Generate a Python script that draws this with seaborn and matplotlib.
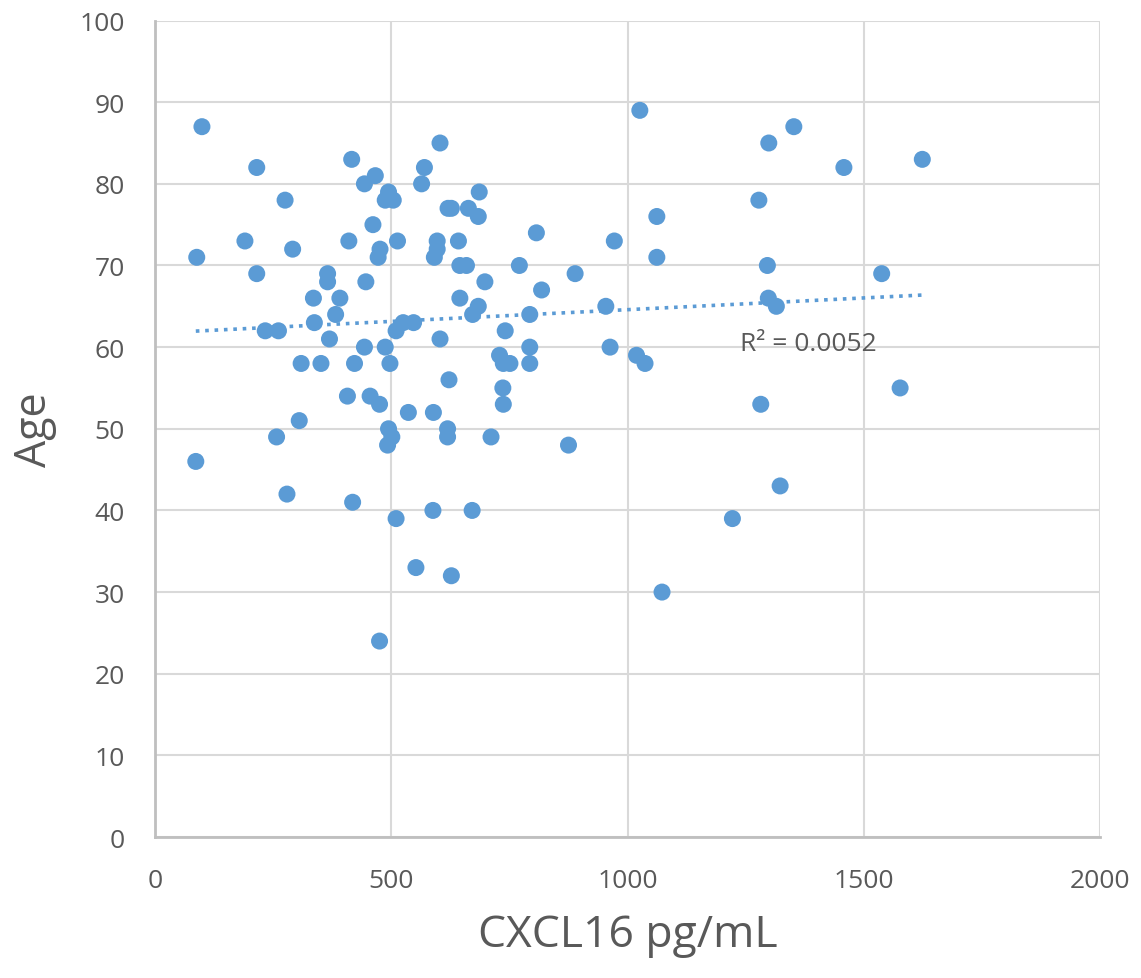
import numpy as np
import pandas as pd
import seaborn as sns
import matplotlib.pyplot as plt

# values (CXCL16 pg/mL vs age)
cxcl16 = [
    99, 215, 416, 603, 466, 443, 570, 564, 494, 487,
    504, 620, 275, 461, 190, 88, 291, 410, 476, 472,
    513, 597, 597, 591, 215, 365, 365, 446, 335, 391,
    382, 337, 233, 261, 369, 525, 547, 510, 603, 443,
    487, 309, 351, 422, 497, 622, 686, 627, 663, 684,
    807, 972, 642, 645, 659, 771, 889, 698, 818, 645,
    684, 672, 954, 793, 741, 793, 963, 729, 737, 751,
    793, 736, 407, 455, 475, 536, 589, 305, 257, 494,
    501, 492, 619, 619, 86, 279, 418, 510, 588, 552,
    627, 475, 737, 711, 875, 671, 1019, 1037, 1026, 1352,
    1299, 1458, 1278, 1062, 1062, 1296, 1298, 1315, 1282, 1624,
    1538, 1577, 1323, 1222, 1073,
]
age = [
    87, 82, 83, 85, 81, 80, 82, 80, 79, 78,
    78, 77, 78, 75, 73, 71, 72, 73, 72, 71,
    73, 73, 72, 71, 69, 69, 68, 68, 66, 66,
    64, 63, 62, 62, 61, 63, 63, 62, 61, 60,
    60, 58, 58, 58, 58, 56, 79, 77, 77, 76,
    74, 73, 73, 70, 70, 70, 69, 68, 67, 66,
    65, 64, 65, 64, 62, 60, 60, 59, 58, 58,
    58, 55, 54, 54, 53, 52, 52, 51, 49, 50,
    49, 48, 50, 49, 46, 42, 41, 39, 40, 33,
    32, 24, 53, 49, 48, 40, 59, 58, 89, 87,
    85, 82, 78, 76, 71, 70, 66, 65, 53, 83,
    69, 55, 43, 39, 30,
]
r2_label = "R² = 0.0052"

x_ticks = [0, 500, 1000, 1500, 2000]
y_ticks = list(range(0, 101, 10))

df = pd.DataFrame({"CXCL16": cxcl16, "Age": age})

sns.set_style("white")
plt.rcParams["font.family"] = ["Open Sans", "DejaVu Sans"]

blue = "#5B9BD5"
grey_txt = "#595959"

fig = plt.figure(figsize=(11.41, 9.79), dpi=100)
ax = fig.add_axes([0.136, 0.144, 0.828, 0.834])

sns.scatterplot(data=df, x="CXCL16", y="Age", color=blue, s=150,
                edgecolor="none", ax=ax, zorder=3)
sns.regplot(data=df, x="CXCL16", y="Age", scatter=False, ci=None,
            color=blue, ax=ax,
            line_kws=dict(linestyle=(0, (1, 1.6)), linewidth=2.6, zorder=2))

ax.text(1238, 60.5, r2_label, fontsize=19, color=grey_txt, va="center")

ax.set_xlim(0, 2000)
ax.set_ylim(0, 100)
ax.set_xticks(x_ticks)
ax.set_yticks(y_ticks)
ax.grid(True, color="#d9d9d9", linewidth=1.5, zorder=0)
ax.set_axisbelow(True)

for side in ["top", "right"]:
    ax.spines[side].set_visible(False)
for side in ["left", "bottom"]:
    ax.spines[side].set_color("#bfbfbf")
    ax.spines[side].set_linewidth(2)

ax.tick_params(axis="both", length=0, labelsize=19, labelcolor=grey_txt)
ax.tick_params(axis="x", pad=22)
ax.tick_params(axis="y", pad=22)

ax.set_xlabel("CXCL16 pg/mL", fontsize=32, color=grey_txt, labelpad=14)
ax.set_ylabel("Age", fontsize=31, color=grey_txt, labelpad=16)

fig.savefig("out.png", dpi=100)
